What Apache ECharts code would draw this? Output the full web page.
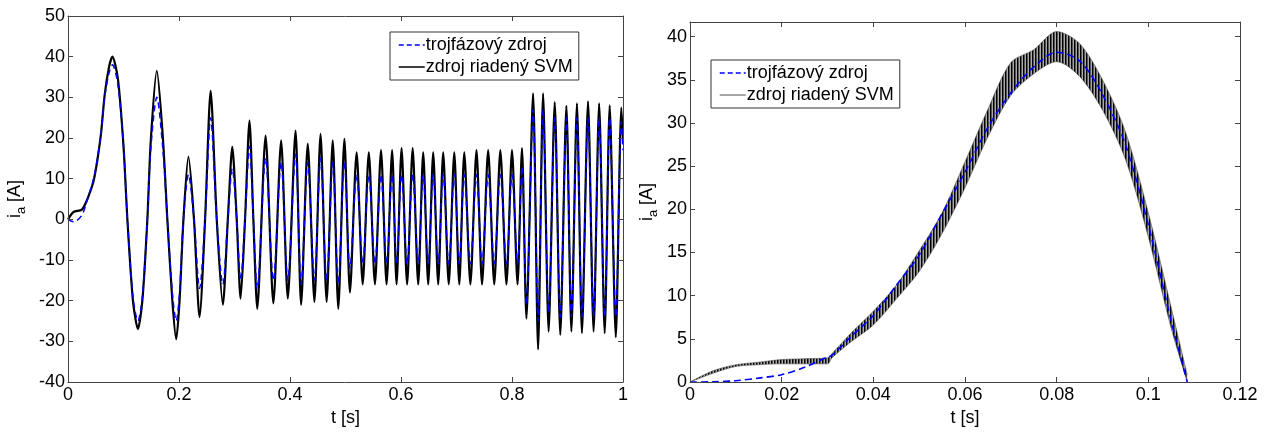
<!DOCTYPE html>
<html>
<head>
<meta charset="utf-8">
<script src="https://cdn.jsdelivr.net/npm/echarts@6/dist/echarts.min.js"></script>
<style>
  html, body { margin: 0; padding: 0; background: #fff; }
  #chart { width: 1276px; height: 432px; }
</style>
</head>
<body>
<div id="chart"></div>
<script>
// left panel: whole start-up, values read at peaks / troughs / zero crossings
const tLeft = [0, 0.010, 0.025, 0.035, 0.047, 0.059, 0.066, 0.074, 0.080, 0.090, 0.100, 0.107, 0.117, 0.126, 0.134, 0.143, 0.149, 0.160, 0.171, 0.179, 0.188, 0.195, 0.201, 0.208, 0.217, 0.227, 0.237, 0.247, 0.257, 0.268, 0.279, 0.288, 0.296, 0.304, 0.311, 0.319, 0.327, 0.334, 0.341, 0.356, 0.370, 0.384, 0.396, 0.410, 0.420, 0.432, 0.444, 0.455, 0.466, 0.477, 0.487, 0.498, 0.508, 0.520, 0.531, 0.542, 0.553, 0.564, 0.574, 0.584, 0.592, 0.601, 0.611, 0.621, 0.631, 0.640, 0.649, 0.658, 0.667, 0.676, 0.686, 0.696, 0.705, 0.714, 0.725, 0.736, 0.746, 0.757, 0.768, 0.779, 0.790, 0.800, 0.810, 0.818, 0.826, 0.838, 0.847, 0.856, 0.866, 0.877, 0.887, 0.898, 0.907, 0.917, 0.926, 0.937, 0.947, 0.957, 0.967, 0.976, 0.987, 0.997, 1.0];
const blueLeft = [0, -0.6, 1.0, 5, 10.5, 20.5, 30, 36, 38, 33, 18, 0, -19, -25, -19, 0, 17, 30, 17, 0, -18, -25, -18, 0, 11, 0, -17, 0, 25, 0, -16, 0, 12.5, 0, -15, 0, 18, 0, -17, 15, -15, 14, -15, 16, -16, 14, -15, 15, -15, 14, -16, 14, -12, 11, -11, 11, -11, 11, -11, 11, -11, 11, -11, 11, -11, 11, -11, 11, -11, 11, -11, 11, -11, 11, -11, 11, -11, 11, -11, 11, -11, 11, -11, 13, -21, 27, -25, 27, -23, 25, -24, 25, -24, 25, -24, 25, -24, 25, -24, 25, -24, 24, 17];
const blackLeft = [0, 1.8, 2.4, 5, 10, 20.5, 30.5, 37.5, 40, 34.5, 18, 0, -20, -27, -20, 0, 19, 36.5, 20, 0, -20, -29.5, -20, 0, 15.4, 0, -24, 0, 31.6, 0, -21, 0, 17.8, 0, -19.5, 0, 24.3, 0, -22, 20.6, -20.7, 19.4, -19.5, 21.8, -21, 18.6, -20.3, 21, -20.3, 19.4, -22, 19.8, -18, 16.5, -16, 16.5, -16, 17, -16, 17, -16, 17.5, -16, 17.5, -16, 16.5, -16, 16.5, -16, 16.5, -16, 16.5, -16, 16.5, -16, 17, -16, 17, -16, 17, -16, 17, -16, 17.5, -24.4, 31, -32, 31, -27.6, 28.8, -28.4, 27.9, -27.6, 28.5, -28, 29, -27.6, 28.5, -28, 28, -29, 27.5, 20];

// right panel: first half-period, SVM ripple given as lower / upper envelope
const tRight = [0, 0.005, 0.01, 0.015, 0.02, 0.025, 0.03, 0.031, 0.035, 0.04, 0.045, 0.05, 0.055, 0.06, 0.065, 0.07, 0.075, 0.08, 0.085, 0.09, 0.095, 0.1, 0.105, 0.1085];
const blueRight = [0, 0.02, 0.15, 0.45, 0.85, 1.7, 2.9, 3.1, 5.2, 7.7, 11.2, 14.7, 19.5, 24.3, 29.5, 33.5, 36.5, 38.2, 37.2, 33.3, 27.5, 18.2, 7.0, 0];
const svmLow = [0, 1.0, 1.8, 2.0, 2.1, 2.1, 2.1, 2.8, 4.6, 6.6, 9.6, 12.8, 17.2, 22.5, 28.4, 33.2, 35.7, 37.1, 35.4, 31.5, 25.8, 16.8, 6.2, 0];
const svmHigh = [0, 1.3, 2.0, 2.3, 2.6, 2.7, 2.8, 3.3, 5.6, 8.2, 11.2, 15.2, 19.6, 25.5, 31.6, 37.0, 38.5, 40.6, 39.2, 35.0, 29.0, 19.6, 8.6, 0.8];

const xTicksLeft = { min: 0, max: 1, interval: 0.2 };
const yTicksLeft = { min: -40, max: 50, interval: 10 };
const xTicksRight = { min: 0, max: 0.12, interval: 0.02 };
const yTicksRight = { min: 0, max: 41.7, interval: 5 };

const FONT = "'Liberation Sans', Arial, sans-serif";
const AX = '#444';

// vertical hatch for the ripple band
const hatch = document.createElement('canvas');
hatch.width = 3; hatch.height = 2;
const hctx = hatch.getContext('2d');
hctx.fillStyle = '#000'; hctx.fillRect(0, 0, 1, 2);
hctx.fillStyle = '#555'; hctx.fillRect(1, 0, 1, 2);
hctx.fillStyle = '#aaa'; hctx.fillRect(2, 0, 1, 2);

function pairs(xs, ys) {
  return xs.map((x, i) => [x, ys[i]]);
}

function xAxes(grid, ticks) {
  const base = {
    type: 'value', gridIndex: grid, min: ticks.min, max: ticks.max, interval: ticks.interval, z: 10,
    axisLine: { onZero: false, lineStyle: { color: AX, width: 1 } },
    axisTick: { inside: true, length: 5, lineStyle: { color: AX } },
    splitLine: { show: false }
  };
  return [
    Object.assign({}, base, {
      position: 'bottom',
      axisLabel: { color: '#000', fontSize: 18, fontFamily: FONT, margin: 4 },
      name: 't [s]', nameLocation: 'middle', nameGap: 27,
      nameTextStyle: { color: '#000', fontSize: 18, fontFamily: FONT }
    }),
    Object.assign({}, base, { position: 'top', axisLabel: { show: false } })
  ];
}

function yAxes(grid, ticks, gap) {
  const base = {
    type: 'value', gridIndex: grid, min: ticks.min, max: ticks.max, interval: ticks.interval, z: 10,
    axisLine: { onZero: false, lineStyle: { color: AX, width: 1 } },
    axisTick: { inside: true, length: 5, lineStyle: { color: AX } },
    splitLine: { show: false }
  };
  return [
    Object.assign({}, base, {
      position: 'left',
      axisLabel: { color: '#000', fontSize: 18, fontFamily: FONT, margin: 3, showMaxLabel: grid === 0 },
      name: 'i{sub|a} [A]', nameLocation: 'middle', nameGap: gap,
      nameTextStyle: {
        color: '#000', fontSize: 18, fontFamily: FONT, lineHeight: 26,
        rich: { sub: { fontSize: 13, fontFamily: FONT, verticalAlign: 'bottom', lineHeight: 12 } }
      }
    }),
    Object.assign({}, base, { position: 'right', axisLabel: { show: false } })
  ];
}

function legendBox(left, top, svmColor) {
  return {
    left: left, top: top, orient: 'vertical', selectedMode: false, z: 20,
    backgroundColor: '#fff', borderColor: '#333', borderWidth: 1,
    padding: [4, 6, 4, 8], itemGap: 4, itemWidth: 26, itemHeight: 18,
    textStyle: { color: '#000', fontSize: 18, fontFamily: FONT, padding: [0, 0, 0, -4] },
    data: [
      { name: 'trojfázový zdroj', itemStyle: { opacity: 0 }, lineStyle: { color: '#0000ff', width: 1.5, type: [5, 3] } },
      { name: 'zdroj riadený SVM', itemStyle: { opacity: 0 }, lineStyle: { color: svmColor, width: 1.5, type: 'solid' } }
    ]
  };
}

const chart = echarts.init(document.getElementById('chart'));
chart.setOption({
  animation: false,
  backgroundColor: '#fff',
  grid: [
    { left: 68, top: 16, width: 555, height: 370 },
    { left: 690, top: 22, width: 550, height: 365 }
  ],
  xAxis: xAxes(0, xTicksLeft).concat(xAxes(1, xTicksRight)),
  yAxis: yAxes(0, yTicksLeft, 40).concat(yAxes(1, yTicksRight, 30)),
  legend: [legendBox(390, 32, '#000'), legendBox(711, 60, '#888')],
  series: [
    {
      name: 'zdroj riadený SVM', type: 'line', xAxisIndex: 0, yAxisIndex: 0,
      data: pairs(tLeft, blackLeft), symbol: 'none', smooth: 0.25,
      itemStyle: { color: '#000' },
      lineStyle: { color: '#000', width: 2.2 }
    },
    {
      name: 'trojfázový zdroj', type: 'line', xAxisIndex: 0, yAxisIndex: 0,
      data: pairs(tLeft, blueLeft), symbol: 'none', smooth: 0.3,
      itemStyle: { color: '#0000ff' },
      lineStyle: { color: '#0000ff', width: 1.5, type: [6, 4] }
    },
    {
      // upper envelope of the SVM ripple, hatched down to the axis
      name: 'zdroj riadený SVM', type: 'line', xAxisIndex: 2, yAxisIndex: 2,
      data: pairs(tRight, svmHigh), symbol: 'none', smooth: 0.3,
      itemStyle: { color: '#555' },
      lineStyle: { color: '#555', width: 0.6 },
      areaStyle: { color: { image: hatch, repeat: 'repeat' }, opacity: 1 }
    },
    {
      // lower envelope, white below it so only the ripple band stays hatched
      name: 'svmLower', type: 'line', xAxisIndex: 2, yAxisIndex: 2,
      data: pairs(tRight, svmLow), symbol: 'none', smooth: 0.3,
      itemStyle: { color: '#555' },
      lineStyle: { color: '#555', width: 0.6 },
      areaStyle: { color: '#fff', opacity: 1 }
    },
    {
      name: 'trojfázový zdroj', type: 'line', xAxisIndex: 2, yAxisIndex: 2,
      data: pairs(tRight, blueRight), symbol: 'none', smooth: 0.3,
      itemStyle: { color: '#0000ff' },
      lineStyle: { color: '#0000ff', width: 1.6, type: [7, 4] }
    }
  ]
});
</script>
</body>
</html>
